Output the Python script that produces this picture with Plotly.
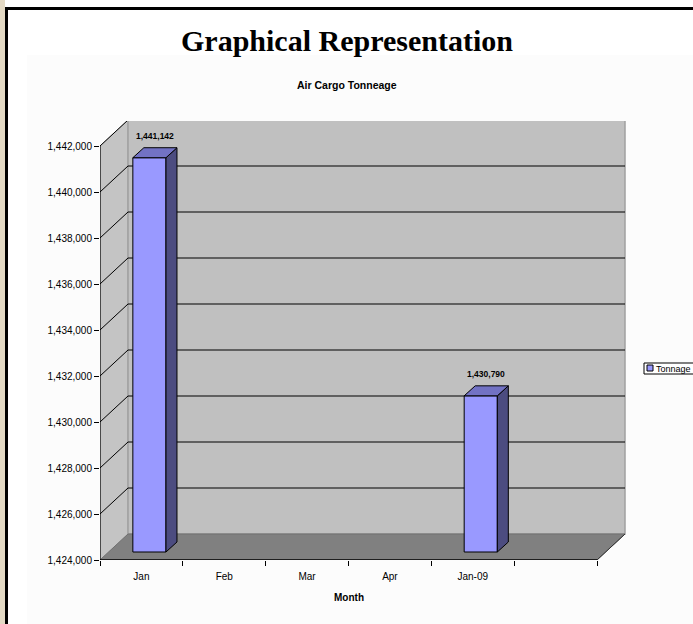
import plotly.graph_objects as go

# ---------------- data ----------------
page_title = "Graphical Representation"
chart_title = "Air Cargo Tonneage"
x_title = "Month"
series_name = "Tonnage"
months = ["Jan", "Feb", "Mar", "Apr", "Jan-09", ""]
tonnage = [1441142, None, None, None, 1430790, None]
y_ticks = [1424000, 1426000, 1428000, 1430000, 1432000,
           1434000, 1436000, 1438000, 1440000, 1442000]

# ---------------- geometry (pixels) ----------------
W, H = 693, 624
L, R, T, B = 100, 626, 121, 560          # plot area
AX_RIGHT = 597                            # front x-axis end
PX_TOP_TICK = 146                         # pixel of top y tick
WALL_DX, WALL_DY = 28, 26                 # 3D depth of walls
BAR_OFF = 8                               # bar front plane offset
BAR_DX, BAR_DY = 11, 10                   # bar depth
BAR_W = 0.4

FRONT = "#9999FF"
SIDE = "#4C4C80"
TOP = "#7272C4"
WALL = "#C0C0C0"
FLOOR = "#808080"
SANS = "Liberation Sans, Arial, sans-serif"
SERIF = "Liberation Serif, Times New Roman, serif"

n = len(months)
xs = list(range(n))
PXC = (AX_RIGHT - L) / n
Y0, YTOP = y_ticks[0], y_ticks[-1]
UPP = (YTOP - Y0) / (B - PX_TOP_TICK)

xr = [-0.5, -0.5 + (R - L) / PXC]
yr = [Y0, Y0 + (B - T) * UPP]
xr2 = [xr[0] - BAR_OFF / PXC, xr[1] - BAR_OFF / PXC]
yr2 = [yr[0] - BAR_OFF * UPP, yr[1] - BAR_OFF * UPP]

DX, DY = WALL_DX / PXC, WALL_DY * UPP
bdx, bdy = BAR_DX / PXC, BAR_DY * UPP
XL, XR = -0.5, n - 0.5


def px(x):
    return (x - L) / (R - L)


def py(y):
    return (B - y) / (B - T)


def path(pts):
    return "M " + " L ".join(f"{a},{b}" for a, b in pts) + " Z"


shapes = []
# page frame
shapes.append(dict(type="rect", xref="paper", yref="paper", x0=px(27), x1=px(720),
                   y0=py(55), y1=py(640), fillcolor="#FCFCFC", line_width=0, layer="below"))
shapes.append(dict(type="rect", xref="paper", yref="paper", x0=px(-5), x1=px(5),
                   y0=py(-5), y1=py(640), fillcolor="#E3D9C4", line_width=0, layer="below"))
shapes.append(dict(type="line", xref="paper", yref="paper", x0=px(5), x1=px(720),
                   y0=py(8.5), y1=py(8.5), line=dict(color="black", width=3), layer="below"))
shapes.append(dict(type="line", xref="paper", yref="paper", x0=px(6.5), x1=px(6.5),
                   y0=py(7), y1=py(640), line=dict(color="black", width=3), layer="below"))

# walls
shapes.append(dict(type="path", xref="x", yref="y", layer="below",
                   path=path([(XL, Y0), (XL, YTOP), (XL + DX, YTOP + DY), (XL + DX, Y0 + DY)]),
                   fillcolor="#C4C4C4", line=dict(color="#A8A8A8", width=1)))
shapes.append(dict(type="rect", xref="x", yref="y", layer="below",
                   x0=XL + DX, x1=XR + DX, y0=Y0 + DY, y1=YTOP + DY,
                   fillcolor=WALL, line=dict(color="#A0A0A0", width=1.5)))
shapes.append(dict(type="path", xref="x", yref="y", layer="below",
                   path=path([(XL, Y0), (XR, Y0), (XR + DX, Y0 + DY), (XL + DX, Y0 + DY)]),
                   fillcolor=FLOOR, line=dict(color="#707070", width=1)))
for v in y_ticks[1:]:
    shapes.append(dict(type="line", xref="x", yref="y", layer="below",
                       x0=XL + DX, x1=XR + DX, y0=v + DY, y1=v + DY,
                       line=dict(color="black", width=1.2)))
    shapes.append(dict(type="line", xref="x", yref="y", layer="below",
                       x0=XL, x1=XL + DX, y0=v, y1=v + DY,
                       line=dict(color="black", width=1)))
# axis lines
shapes.append(dict(type="line", xref="x", yref="y", x0=XL, x1=XL, y0=Y0, y1=YTOP,
                   line=dict(color="black", width=1.2)))
shapes.append(dict(type="line", xref="x", yref="y", x0=XL, x1=XR, y0=Y0, y1=Y0,
                   line=dict(color="black", width=1.5)))
shapes.append(dict(type="line", xref="x", yref="y", x0=XR, x1=XR + DX, y0=Y0, y1=Y0 + DY,
                   line=dict(color="#303030", width=1)))

# bar 3D faces + labels
annotations = []
for c, v in zip(xs, tonnage):
    if v is None:
        continue
    r_ = c + BAR_W / 2
    l_ = c - BAR_W / 2
    shapes.append(dict(type="path", xref="x2", yref="y2",
                       path=path([(r_, Y0), (r_ + bdx, Y0 + bdy), (r_ + bdx, v + bdy), (r_, v)]),
                       fillcolor=SIDE, line=dict(color="black", width=1)))
    shapes.append(dict(type="path", xref="x2", yref="y2",
                       path=path([(l_, v), (l_ + bdx, v + bdy), (r_ + bdx, v + bdy), (r_, v)]),
                       fillcolor=TOP, line=dict(color="black", width=1)))
    annotations.append(dict(xref="x2", yref="y2", x=c + bdx / 2, y=v, yshift=22,
                            text=f"<b>{v:,}</b>", showarrow=False, xanchor="center",
                            yanchor="middle", font=dict(family=SANS, size=8.5, color="black")))

# legend (drawn)
shapes.append(dict(type="rect", xref="paper", yref="paper", x0=px(644), x1=px(710),
                   y0=py(374), y1=py(363), fillcolor="white", line=dict(color="black", width=1)))
shapes.append(dict(type="rect", xref="paper", yref="paper", x0=px(647), x1=px(653),
                   y0=py(371), y1=py(365), fillcolor=FRONT, line=dict(color="black", width=1)))
annotations.append(dict(xref="paper", yref="paper", x=px(654), y=py(368.5), text=series_name,
                        showarrow=False, xanchor="left", yanchor="middle",
                        font=dict(family=SANS, size=9, color="black")))

# titles
annotations.append(dict(xref="paper", yref="paper", x=px(347), y=py(40), text=f"<b>{page_title}</b>",
                        showarrow=False, xanchor="center", yanchor="middle",
                        font=dict(family=SERIF, size=30, color="black")))
annotations.append(dict(xref="paper", yref="paper", x=px(347), y=py(85), text=f"<b>{chart_title}</b>",
                        showarrow=False, xanchor="center", yanchor="middle",
                        font=dict(family=SANS, size=10.5, color="black")))
annotations.append(dict(xref="paper", yref="paper", x=px((L + AX_RIGHT) / 2), y=py(597),
                        text=f"<b>{x_title}</b>", showarrow=False, xanchor="center",
                        yanchor="middle", font=dict(family=SANS, size=10, color="black")))

base = [Y0] * n
lengths = [None if v is None else v - Y0 for v in tonnage]

fig = go.Figure()
fig.add_trace(go.Bar(x=xs, y=lengths, base=base, name=series_name, width=BAR_W,
                     xaxis="x2", yaxis="y2", marker=dict(color=FRONT, line=dict(color="black", width=1)),
                     showlegend=False, customdata=tonnage,
                     hovertemplate="%{customdata:,}<extra></extra>"))

fig.update_layout(
    width=W, height=H,
    margin=dict(l=L, r=W - R, t=T, b=H - B, autoexpand=False),
    paper_bgcolor="white", plot_bgcolor="rgba(0,0,0,0)",
    showlegend=False,
    xaxis=dict(range=xr, tickmode="array", tickvals=xs, ticktext=months,
               ticks="", ticklabelstandoff=9, showgrid=False, zeroline=False, showline=False,
               tickfont=dict(family=SANS, size=10, color="black"),
               minor=dict(tickmode="array", tickvals=[i - 0.5 for i in range(n + 1)],
                          ticks="outside", ticklen=5, tickcolor="black", tickwidth=1, showgrid=False)),
    yaxis=dict(range=yr, tickmode="array", tickvals=y_ticks, tickformat=",",
               ticks="outside", ticklen=5, tickcolor="black", tickwidth=1,
               showgrid=False, zeroline=False, showline=False,
               tickfont=dict(family=SANS, size=10, color="black")),
    xaxis2=dict(range=xr2, overlaying="x", visible=False),
    yaxis2=dict(range=yr2, overlaying="y", visible=False),
    shapes=shapes, annotations=annotations,
)

fig.write_html("out.html", config={"displayModeBar": False},
               post_script="document.body.style.margin='0px';document.body.style.overflow='hidden';")
